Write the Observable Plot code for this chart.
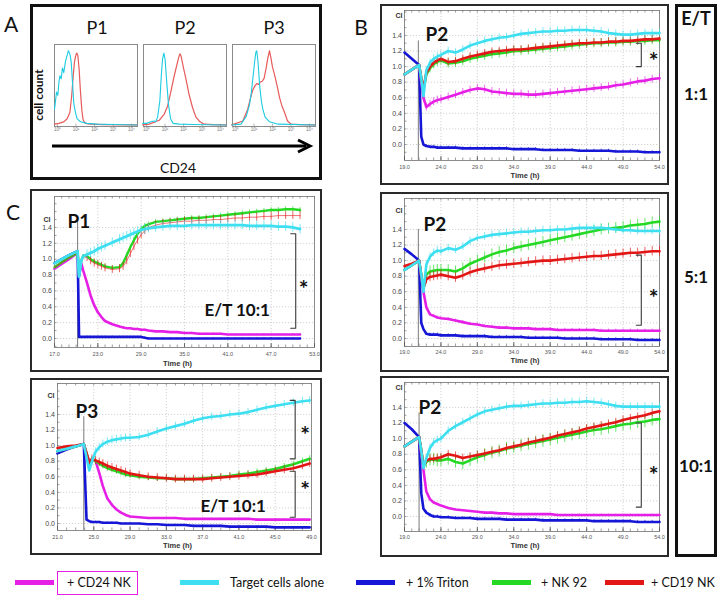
<!DOCTYPE html>
<html><head><meta charset="utf-8">
<script src="https://cdn.jsdelivr.net/npm/d3@7"></script>
<script src="https://cdn.jsdelivr.net/npm/@observablehq/plot@0.6"></script>
<style>
body{margin:0;background:#fff;}
#root{position:relative;width:721px;height:603px;overflow:hidden;font-family:Lato,"Open Sans",sans-serif;color:#111;}
.box{position:absolute;box-sizing:border-box;pointer-events:none;}
.lbl{position:absolute;white-space:nowrap;line-height:1;}
</style></head><body><div id="root"></div><script>
// ---------------- DATA ----------------
const SERIES = ["+ CD24 NK", "Target cells alone", "+ 1% Triton", "+ NK 92", "+ CD19 NK"];
const COLORS = ["#e51fe5", "#3ddff0", "#1616d6", "#24d824", "#e31616"];

// Panel A: flow cytometry histograms (log10 CD24, relative cell count)
const h1CyanLog = [-0.16,-0.05,0.02,0.08,0.13,0.2,0.27,0.34,0.43,0.52,0.59,0.67,0.74,0.81,0.88,0.97,1.06,1.24,1.6,2.14,3.0,4.3];
const h1CyanCnt = [0.20,0.42,0.38,0.55,0.63,0.59,0.73,0.67,0.81,0.89,0.95,0.91,0.81,0.55,0.28,0.16,0.08,0.04,0.02,0.01,0.005,0];
const h1RedLog = [-0.16,0.07,0.34,0.52,0.67,0.77,0.85,0.92,0.99,1.04,1.1,1.17,1.24,1.32,1.39,1.51,1.78,2.5,4.3];
const h1RedCnt = [0.01,0.02,0.04,0.08,0.16,0.38,0.63,0.81,0.89,0.92,0.89,0.71,0.43,0.18,0.06,0.02,0.01,0.005,0];
const h2CyanLog = [-0.2,0.0,0.24,0.4,0.5,0.6,0.72,0.8,0.87,0.94,1.01,1.08,1.19,1.3,1.44,1.77,2.5,4.3];
const h2CyanCnt = [0.02,0.02,0.04,0.05,0.04,0.1,0.3,0.63,0.85,0.92,0.83,0.59,0.26,0.08,0.02,0.01,0.005,0];
const h2RedLog = [-0.2,0.15,0.69,0.96,1.14,1.32,1.5,1.64,1.77,1.82,1.88,1.98,2.13,2.31,2.49,2.67,2.89,3.12,3.6,4.3];
const h2RedCnt = [0,0.01,0.06,0.14,0.24,0.43,0.63,0.77,0.89,0.91,0.87,0.75,0.59,0.38,0.22,0.10,0.04,0.01,0.005,0];
const h3CyanLog = [-0.2,0.3,0.58,0.75,0.85,0.95,1.03,1.1,1.15,1.22,1.3,1.4,1.48,1.6,1.84,2.3,4.3];
const h3CyanCnt = [0,0.01,0.11,0.25,0.4,0.62,0.8,0.93,0.95,0.8,0.52,0.3,0.2,0.1,0.04,0.01,0];
const h3RedLog = [-0.2,0.4,0.66,0.85,0.94,1.05,1.15,1.25,1.35,1.45,1.55,1.65,1.74,1.84,1.92,2.0,2.1,2.25,2.38,2.5,2.65,2.81,3.0,3.5,4.3];
const h3RedCnt = [0,0.05,0.2,0.38,0.45,0.5,0.53,0.52,0.55,0.56,0.6,0.72,0.85,0.95,0.85,0.74,0.65,0.5,0.35,0.25,0.16,0.05,0.01,0.005,0];
const histDecades = [0,1,2,3,4];

// Panel B: P2 at E/T 1:1, 5:1, 10:1 (time in h, cell index)
const tB = [19,20,21,21.3,21.6,22,22.5,23,23.5,24,25,26,27,28,29,30,31,32,33,34,35,36,37,38,39,40,41,42,43,44,45,46,47,48,49,50,51,52,53,54];
const b1_cd24   = [0.90,0.96,1.02,0.80,0.60,0.48,0.52,0.55,0.57,0.58,0.61,0.64,0.67,0.70,0.72,0.71,0.68,0.67,0.66,0.65,0.65,0.64,0.64,0.65,0.66,0.67,0.68,0.69,0.70,0.71,0.72,0.73,0.74,0.76,0.77,0.79,0.81,0.82,0.84,0.85];
const b1_target = [0.90,0.96,1.02,0.85,0.62,0.95,1.05,1.10,1.13,1.15,1.20,1.18,1.22,1.27,1.30,1.33,1.35,1.37,1.38,1.40,1.42,1.43,1.44,1.45,1.45,1.46,1.46,1.47,1.47,1.47,1.46,1.45,1.43,1.42,1.41,1.41,1.42,1.43,1.43,1.43];
const b1_triton = [1.18,1.10,1.02,0.10,0.00,-0.02,-0.03,-0.03,-0.04,-0.04,-0.04,-0.04,-0.05,-0.05,-0.05,-0.05,-0.05,-0.05,-0.05,-0.06,-0.06,-0.06,-0.06,-0.07,-0.07,-0.07,-0.07,-0.07,-0.08,-0.08,-0.08,-0.08,-0.08,-0.09,-0.09,-0.09,-0.09,-0.10,-0.10,-0.10];
const b1_nk92   = [0.90,0.96,1.02,0.85,0.70,0.90,0.98,1.03,1.06,1.08,1.04,1.05,1.07,1.10,1.12,1.14,1.16,1.17,1.18,1.20,1.20,1.21,1.22,1.23,1.24,1.25,1.26,1.27,1.28,1.29,1.30,1.30,1.31,1.31,1.32,1.32,1.33,1.33,1.34,1.34];
const b1_cd19   = [0.90,0.96,1.02,0.85,0.72,0.92,1.00,1.05,1.08,1.10,1.06,1.07,1.10,1.13,1.15,1.17,1.19,1.20,1.21,1.22,1.22,1.23,1.24,1.25,1.26,1.27,1.28,1.29,1.30,1.30,1.31,1.31,1.32,1.32,1.33,1.33,1.34,1.35,1.35,1.36];

const b2_cd24   = [0.88,0.94,1.00,0.80,0.60,0.40,0.31,0.29,0.27,0.26,0.25,0.23,0.21,0.19,0.18,0.16,0.15,0.14,0.14,0.13,0.13,0.13,0.12,0.12,0.12,0.11,0.11,0.11,0.11,0.11,0.11,0.10,0.10,0.10,0.10,0.10,0.10,0.10,0.10,0.10];
const b2_target = [0.88,0.94,1.00,0.82,0.60,0.95,1.05,1.10,1.13,1.12,1.16,1.14,1.18,1.25,1.29,1.31,1.33,1.34,1.35,1.36,1.37,1.37,1.38,1.39,1.39,1.40,1.40,1.41,1.42,1.42,1.42,1.42,1.41,1.40,1.39,1.39,1.38,1.38,1.38,1.38];
const b2_triton = [1.15,1.08,1.00,0.20,0.12,0.06,0.05,0.05,0.05,0.04,0.04,0.04,0.03,0.03,0.03,0.03,0.02,0.02,0.02,0.02,0.02,0.01,0.01,0.01,0.01,0.01,0.00,0.00,0.00,0.00,0.00,-0.01,-0.01,-0.01,-0.01,-0.01,-0.02,-0.02,-0.02,-0.02];
const b2_nk92   = [0.88,0.94,1.00,0.82,0.65,0.82,0.86,0.87,0.88,0.88,0.88,0.86,0.90,0.96,1.00,1.04,1.08,1.11,1.13,1.16,1.18,1.20,1.22,1.24,1.26,1.28,1.30,1.32,1.34,1.36,1.38,1.40,1.41,1.42,1.43,1.45,1.46,1.47,1.49,1.50];
const b2_cd19   = [0.93,0.96,1.00,0.80,0.65,0.76,0.79,0.80,0.81,0.82,0.80,0.78,0.81,0.85,0.88,0.90,0.92,0.94,0.95,0.96,0.97,0.98,0.99,1.00,1.00,1.01,1.02,1.03,1.04,1.05,1.06,1.06,1.07,1.08,1.09,1.10,1.10,1.11,1.12,1.12];

const b3_cd24   = [0.90,0.96,1.02,0.80,0.60,0.32,0.22,0.18,0.16,0.14,0.11,0.09,0.08,0.07,0.06,0.05,0.05,0.04,0.04,0.03,0.03,0.03,0.03,0.03,0.03,0.02,0.02,0.02,0.02,0.02,0.02,0.02,0.02,0.02,0.02,0.02,0.02,0.02,0.02,0.02];
const b3_target = [0.90,0.96,1.02,0.85,0.62,0.75,0.88,0.95,0.98,1.00,1.10,1.16,1.21,1.26,1.31,1.35,1.37,1.39,1.41,1.42,1.42,1.43,1.44,1.45,1.45,1.46,1.46,1.47,1.47,1.48,1.47,1.46,1.44,1.42,1.41,1.41,1.41,1.41,1.41,1.41];
const b3_triton = [1.20,1.12,1.02,0.30,0.10,0.05,0.02,0.00,0.00,-0.01,-0.01,-0.02,-0.02,-0.02,-0.03,-0.03,-0.03,-0.03,-0.04,-0.04,-0.04,-0.04,-0.04,-0.05,-0.05,-0.05,-0.05,-0.05,-0.05,-0.05,-0.06,-0.06,-0.06,-0.06,-0.06,-0.06,-0.07,-0.07,-0.07,-0.07];
const b3_nk92   = [0.90,0.96,1.02,0.85,0.65,0.70,0.73,0.73,0.72,0.72,0.74,0.70,0.68,0.72,0.76,0.79,0.82,0.84,0.87,0.89,0.91,0.93,0.95,0.97,0.99,1.01,1.03,1.05,1.07,1.09,1.11,1.12,1.14,1.16,1.18,1.19,1.21,1.22,1.24,1.25];
const b3_cd19   = [0.90,0.96,1.02,0.85,0.65,0.72,0.74,0.74,0.75,0.76,0.80,0.78,0.75,0.77,0.79,0.81,0.83,0.85,0.88,0.90,0.92,0.95,0.97,0.99,1.01,1.04,1.06,1.08,1.10,1.13,1.15,1.17,1.19,1.21,1.24,1.26,1.28,1.30,1.33,1.35];

// Panel C: P1 and P3 at E/T 10:1
const tC1 = [17,18,19,20.2,20.4,20.7,21,21.5,22,22.5,23,23.5,24,25,26,26.5,27,27.5,28,28.5,29,29.5,30,31,32,33,34,35,36,37,38,39,40,41,42,43,44,45,46,47,48,49,50,51];
const c1_cd24   = [0.88,0.94,1.00,1.08,0.78,0.95,0.85,0.70,0.54,0.42,0.33,0.27,0.22,0.18,0.15,0.14,0.13,0.13,0.12,0.12,0.11,0.11,0.10,0.09,0.09,0.08,0.08,0.07,0.07,0.06,0.06,0.06,0.06,0.05,0.05,0.05,0.05,0.05,0.05,0.05,0.05,0.05,0.05,0.05];
const c1_target = [0.95,1.00,1.05,1.10,0.78,0.98,1.04,1.06,1.08,1.10,1.13,1.15,1.17,1.21,1.25,1.27,1.29,1.31,1.33,1.35,1.37,1.38,1.39,1.40,1.41,1.42,1.42,1.42,1.43,1.43,1.43,1.43,1.43,1.43,1.43,1.43,1.42,1.42,1.42,1.42,1.41,1.41,1.40,1.38];
const c1_triton = [0.95,1.00,1.05,1.10,0.02,0.02,0.02,0.02,0.02,0.02,0.02,0.02,0.02,0.02,0.02,0.02,0.02,0.02,0.02,0.02,0.02,0.01,0.00,0.00,0.00,0.00,0.00,0.00,0.00,0.00,0.00,0.00,0.00,0.00,0.00,0.00,0.00,0.00,0.00,0.00,0.00,0.00,0.00,0.00];
const c1_nk92   = [0.90,0.96,1.02,1.08,0.80,0.98,1.05,1.04,1.00,0.97,0.95,0.93,0.91,0.89,0.90,0.95,1.05,1.15,1.24,1.32,1.38,1.42,1.44,1.47,1.48,1.49,1.50,1.51,1.52,1.52,1.53,1.54,1.55,1.56,1.57,1.58,1.59,1.60,1.61,1.62,1.62,1.63,1.63,1.62];
const c1_cd19   = [0.90,0.96,1.02,1.08,0.80,0.97,1.03,1.02,0.98,0.95,0.93,0.91,0.89,0.87,0.88,0.91,0.98,1.07,1.16,1.24,1.31,1.36,1.40,1.43,1.45,1.46,1.47,1.48,1.48,1.49,1.49,1.50,1.50,1.51,1.52,1.52,1.53,1.53,1.54,1.54,1.55,1.55,1.55,1.55];

const tC2 = [21,22,23,23.9,24.2,24.5,24.8,25.2,25.6,26,26.5,27,27.5,28,28.5,29,30,31,32,33,34,35,36,37,38,39,40,41,42,43,44,45,46,47,48,48.8];
const c2_cd24   = [0.93,0.96,0.99,1.02,0.90,0.80,0.82,0.80,0.65,0.48,0.32,0.24,0.18,0.14,0.11,0.09,0.08,0.07,0.07,0.07,0.07,0.06,0.06,0.06,0.06,0.06,0.06,0.06,0.06,0.05,0.05,0.05,0.05,0.05,0.05,0.05];
const c2_target = [0.93,0.96,0.99,1.02,0.85,0.68,0.80,0.92,0.98,1.02,1.05,1.07,1.08,1.09,1.10,1.10,1.11,1.14,1.18,1.22,1.25,1.28,1.32,1.35,1.37,1.38,1.40,1.41,1.43,1.46,1.49,1.51,1.53,1.55,1.57,1.58];
const c2_triton = [0.90,0.95,0.99,1.02,0.05,0.03,0.02,0.02,0.02,0.01,0.01,0.01,0.01,0.00,0.00,0.00,0.00,-0.01,-0.01,-0.02,-0.02,-0.02,-0.03,-0.03,-0.03,-0.03,-0.04,-0.04,-0.04,-0.04,-0.04,-0.05,-0.05,-0.05,-0.05,-0.05];
const c2_nk92   = [0.93,0.96,0.99,1.02,0.90,0.76,0.82,0.80,0.77,0.74,0.71,0.69,0.67,0.65,0.63,0.62,0.60,0.59,0.58,0.58,0.57,0.57,0.57,0.58,0.59,0.60,0.61,0.63,0.64,0.66,0.68,0.70,0.73,0.76,0.80,0.83];
const c2_cd19   = [0.97,0.99,1.00,1.02,0.90,0.78,0.83,0.81,0.79,0.77,0.74,0.72,0.70,0.68,0.66,0.64,0.62,0.60,0.59,0.58,0.57,0.57,0.57,0.57,0.58,0.59,0.60,0.61,0.62,0.63,0.65,0.67,0.69,0.71,0.74,0.77];

// error-bar half widths per series [cd24, target, triton, nk92, cd19]
const errB1 = [0.05,0.05,0.02,0.06,0.05];
const errB2 = [0.02,0.05,0.02,0.07,0.06];
const errB3 = [0.01,0.05,0.02,0.08,0.05];
const errC1 = [0.01,0.06,0.01,0.03,0.05];
const errC2 = [0.01,0.05,0.01,0.04,0.05];

// time of effector addition and top of the marker line (CI)
const addTimes = [20.9, 20.9, 21.0, 20.2, 23.9];
const addTops  = [1.33, 1.40, 1.33, 1.53, 1.37];

// significance brackets [time, top CI, bottom CI] and asterisks [time, CI]
const bracketsB1 = [[51.5,1.30,1.00]], starsB1 = [[53.2,1.15]];
const bracketsB2 = [[51.5,1.07,0.17]], starsB2 = [[53.2,0.60]];
const bracketsB3 = [[51.5,1.20,0.12]], starsB3 = [[53.2,0.62]];
const bracketsC1 = [[50.4,1.32,0.13]], starsC1 = [[51.5,0.70]];
const bracketsC2 = [[47.2,1.58,0.83],[47.2,0.67,0.08]], starsC2 = [[48.3,1.22],[48.3,0.51]];

const ticksB = [19,24,29,34,39,44,49,54];
const ticksC1 = [17,23,29,35,41,47,53];
const ticksC2 = [21,25,29,33,37,41,45,49];
const ticksY = [0,0.2,0.4,0.6,0.8,1.0,1.2,1.4];

// ---------------- LAYOUT ----------------
const root = document.getElementById("root");
const FONT_T = "'Liberation Sans', Arial, sans-serif";

function boxDiv(l,t,r,b,border){
  const d=document.createElement("div"); d.className="box";
  Object.assign(d.style,{left:l+"px",top:t+"px",width:(r-l)+"px",height:(b-t)+"px",border});
  root.appendChild(d); return d;
}
function txt(s,x,y,css,anchor){
  const d=document.createElement("div"); d.className="lbl"; d.textContent=s;
  Object.assign(d.style,{left:x+"px",top:y+"px"},css||{});
  d.style.transform = (anchor==="start"?"translate(0,-50%)":"translate(-50%,-50%)") + (css&&css.rot?" rotate(-90deg)":"");
  root.appendChild(d); return d;
}
function put(svg,l,t){ const w=document.createElement("div"); w.style.position="absolute"; w.style.left=l+"px"; w.style.top=t+"px"; w.appendChild(svg); root.appendChild(w); }

// ---- Panel A ----
const SUP = ["\u2070","\u00b9","\u00b2","\u00b3","\u2074"];
function hist(left, cl, cc, rl, rc){
  const cy = cl.map((l,i)=>({x:10**l, y:cc[i]}));
  const rd = rl.map((l,i)=>({x:10**l, y:rc[i]}));
  const svg = Plot.plot({
    width:83, height:90, marginTop:0, marginLeft:0, marginRight:0, marginBottom:8,
    x:{type:"log", domain:[10**-0.16, 10**4.32], axis:null},
    y:{domain:[-0.02,1.03], axis:null},
    style:{background:"transparent", fontFamily:FONT_T, overflow:"visible"},
    marks:[
      Plot.frame({stroke:"#8a8a8a"}),
      Plot.ruleX(histDecades, {x:d=>10**d, y1:-0.02, y2:0.01, stroke:"#888", strokeWidth:0.6}),
      Plot.line(rd, {x:"x", y:"y", stroke:"#e65a5a", strokeWidth:1.2}),
      Plot.line(cy, {x:"x", y:"y", stroke:"#1ccbe0", strokeWidth:1.1}),
      Plot.text(histDecades, {x:d=>10**d, text:d=>"10"+SUP[d], frameAnchor:"bottom", dy:4, fontSize:4.5, fill:"#777"})
    ]
  });
  put(svg, left, 44);
}
hist(54, h1CyanLog, h1CyanCnt, h1RedLog, h1RedCnt);
hist(143, h2CyanLog, h2CyanCnt, h2RedLog, h2RedCnt);
hist(232, h3CyanLog, h3CyanCnt, h3RedLog, h3RedCnt);
boxDiv(30,4,322,180,"3px solid #111");
txt("A",11,23,{fontSize:"21px"});
txt("P1",97,27,{fontSize:"18px"});
txt("P2",185,27,{fontSize:"18px"});
txt("P3",274,27,{fontSize:"18px"});
txt("cell count",39,95,{fontSize:"12px",fontWeight:"bold",rot:true});
txt("CD24",178,168,{fontSize:"14px"});
(function(){
  const ns="http://www.w3.org/2000/svg";
  const s=document.createElementNS(ns,"svg"); s.setAttribute("width","270"); s.setAttribute("height","16");
  s.style.position="absolute"; s.style.left="48px"; s.style.top="138px";
  const ln=document.createElementNS(ns,"line");
  ln.setAttribute("x1","4"); ln.setAttribute("y1","8"); ln.setAttribute("x2","258"); ln.setAttribute("y2","8");
  ln.setAttribute("stroke","#000"); ln.setAttribute("stroke-width","3");
  const hd=document.createElementNS(ns,"path");
  hd.setAttribute("d","M250,2 L262,8 L250,14"); hd.setAttribute("fill","none"); hd.setAttribute("stroke","#000"); hd.setAttribute("stroke-width","3");
  s.appendChild(ln); s.appendChild(hd); root.appendChild(s);
})();

// ---- Kinetic panels ----
const DRAW_ORDER = [2,0,3,4,1];
function kinetic(cfg, d){
  const [fl,ft,fr,fb]=cfg.frame, [pl,pt,pr,pb]=cfg.plot;
  const yDom=[(cfg.y0-pb)/cfg.k, (cfg.y0-pt)/cfg.k];
  const xDom=d.xDomain;
  const pxH=(pr-pl)/(xDom[1]-xDom[0]);
  const minorX=d3.range(Math.ceil(xDom[0]), xDom[1]+0.001, 1);
  const minorY=d3.range(-0.1, yDom[1], 0.1).filter(v=>v>yDom[0]);
  const grid={stroke:"#c6c6c6", strokeDasharray:"1.2,1.8", strokeWidth:0.8};
  const marks=[
    Plot.ruleX(d.xTicks, grid),
    Plot.ruleY(ticksY, grid),
    Plot.frame({stroke:"#8c8c8c"}),
    Plot.ruleX(minorX, {y1:yDom[0], y2:yDom[0]+2.5/cfg.k, stroke:"#777", strokeWidth:0.7}),
    Plot.ruleX(minorX, {y1:yDom[1], y2:yDom[1]-2.5/cfg.k, stroke:"#777", strokeWidth:0.7}),
    Plot.ruleX(d.xTicks, {y1:yDom[0], y2:yDom[0]+4/cfg.k, stroke:"#555", strokeWidth:0.8}),
    Plot.ruleY(minorY, {x1:xDom[0], x2:xDom[0]+2.5/pxH, stroke:"#777", strokeWidth:0.7}),
    Plot.ruleX([d.add], {y1:d.addTop, y2:yDom[0], stroke:"#7a7a7a", strokeWidth:1})
  ];
  DRAW_ORDER.forEach(si=>{
    const rows=d.values[si].map((v,i)=>({t:d.t[i], v}));
    const e=d.err[si];
    const er=rows.filter(r=>r.t>=d.add+0.9);
    marks.push(Plot.ruleX(er, {x:"t", y1:r=>r.v-e, y2:r=>r.v+e, stroke:COLORS[si], strokeOpacity:0.75, strokeWidth:0.9}));
    marks.push(Plot.line(rows, {x:"t", y:"v", stroke:COLORS[si], strokeWidth:(d.widths?d.widths[si]:2.6), strokeOpacity:(d.opac?d.opac[si]:1)}));
  });
  const tick=5/pxH;
  d.brackets.forEach(b=>{
    const pts=[{x:b[0]-tick,y:b[1]},{x:b[0],y:b[1]},{x:b[0],y:b[2]},{x:b[0]-tick,y:b[2]}];
    marks.push(Plot.line(pts,{x:"x",y:"y",stroke:"#3a3a3a",strokeWidth:1.1}));
  });
  marks.push(Plot.text(d.stars,{x:s=>s[0],y:s=>s[1],text:()=>"*",fontSize:23,fontWeight:"bold",fill:"#111",dy:7,fontFamily:"Lato"}));
  marks.push(Plot.text(d.xTicks,{x:v=>v,text:v=>v.toFixed(1),frameAnchor:"bottom",dy:cfg.xLab,fontSize:5.5,fill:"#555"}));
  marks.push(Plot.text(ticksY,{y:v=>v,text:v=>v.toFixed(1),frameAnchor:"left",dx:-2.5,textAnchor:"end",fontSize:7,fill:"#444"}));
  marks.push(Plot.text(["CI"],{text:s=>s,frameAnchor:"top-left",dx:cfg.ci[0],dy:cfg.ci[1],fontSize:7,fontWeight:"bold",fill:"#333"}));
  marks.push(Plot.text(["Time (h)"],{text:s=>s,frameAnchor:"bottom",dx:-7,dy:cfg.timeLab,fontSize:7.5,fontWeight:"bold",fill:"#333"}));
  marks.push(Plot.text([d.name],{text:s=>s,frameAnchor:"top-left",dx:cfg.pname[0],dy:cfg.pname[1],textAnchor:"start",fontSize:19,fontWeight:"bold",fill:"#111",fontFamily:"Lato"}));
  if(d.et) marks.push(Plot.text([d.et],{text:s=>s,frameAnchor:"top-left",dx:cfg.etPos[0],dy:cfg.etPos[1],textAnchor:"start",fontSize:17,fontWeight:"bold",fill:"#111",fontFamily:"Lato"}));
  const svg=Plot.plot({
    width:fr-fl, height:fb-ft, marginLeft:pl-fl, marginRight:fr-pr, marginTop:pt-ft, marginBottom:fb-pb,
    x:{domain:xDom, axis:null}, y:{domain:yDom, axis:null},
    style:{background:"transparent", fontFamily:FONT_T, overflow:"visible"},
    marks
  });
  put(svg, fl, ft);
  boxDiv(fl,ft,fr,fb,"2px solid #2a2a2a");
}

kinetic({frame:[380,4,669,185], plot:[404,10,659,160], y0:144, k:77.9, xLab:8, timeLab:17, ci:[-9,3], pname:[21,17]},
  {name:"P2", t:tB, xDomain:[19,54], xTicks:ticksB, values:[b1_cd24,b1_target,b1_triton,b1_nk92,b1_cd19], err:errB1, add:addTimes[0], addTop:addTops[0], brackets:bracketsB1, stars:starsB1});
kinetic({frame:[380,192,669,372], plot:[404,198,659,346], y0:338, k:77.9, xLab:7, timeLab:16, ci:[-9,10], pname:[19,18.5]},
  {name:"P2", t:tB, xDomain:[19,54], xTicks:ticksB, values:[b2_cd24,b2_target,b2_triton,b2_nk92,b2_cd19], err:errB2, add:addTimes[1], addTop:addTops[1], brackets:bracketsB2, stars:starsB2});
kinetic({frame:[380,376,669,557], plot:[404,382,659,531], y0:516, k:77.9, xLab:7, timeLab:16, ci:[-9,3], pname:[14,18]},
  {name:"P2", t:tB, xDomain:[19,54], xTicks:ticksB, values:[b3_cd24,b3_target,b3_triton,b3_nk92,b3_cd19], err:errB3, add:addTimes[2], addTop:addTops[2], brackets:bracketsB3, stars:starsB3});
kinetic({frame:[30,189,322,372], plot:[54,196,314,347], y0:338, k:79.3, xLab:8, timeLab:18, ci:[-11,21], pname:[13,18], etPos:[150,107]},
  {name:"P1", et:"E/T 10:1", t:tC1, xDomain:[17,53], xTicks:ticksC1, values:[c1_cd24,c1_target,c1_triton,c1_nk92,c1_cd19], err:errC1, add:addTimes[3], addTop:addTops[3], brackets:bracketsC1, stars:starsC1, widths:[2.6,2.8,2.6,2.4,1], opac:[1,1,1,1,0.6]});
kinetic({frame:[30,378,322,555], plot:[57,383,311,530], y0:523, k:77.9, xLab:8, timeLab:17, ci:[-10,10], pname:[18,20.5], etPos:[143,116.5]},
  {name:"P3", et:"E/T 10:1", t:tC2, xDomain:[21,49], xTicks:ticksC2, values:[c2_cd24,c2_target,c2_triton,c2_nk92,c2_cd19], err:errC2, add:addTimes[4], addTop:addTops[4], brackets:bracketsC2, stars:starsC2});

txt("B",361,26,{fontSize:"21px"});
txt("C",13,211,{fontSize:"21px"});

// ---- E/T column ----
const etLabels = ["E/T","1:1","5:1","10:1"];
boxDiv(675,4,717,557,"3px solid #111");
[18,93,276,465].forEach((y,i)=>txt(etLabels[i],696,y,{fontSize:i===0?"18px":"17px",fontWeight:"bold"}));

// ---- Legend ----
const legLineX=[15,180,356,492,605], legTextX=[67,230,406,541,651];
SERIES.forEach((s,i)=>{
  const l=document.createElement("div");
  Object.assign(l.style,{position:"absolute",left:legLineX[i]+"px",top:"580px",width:"39px",height:"5px",background:COLORS[i]});
  root.appendChild(l);
  txt(s,legTextX[i],583,{fontSize:"12.5px"},"start");
});
boxDiv(57,571,138,595,"1px solid "+COLORS[0]);
</script></body></html>
